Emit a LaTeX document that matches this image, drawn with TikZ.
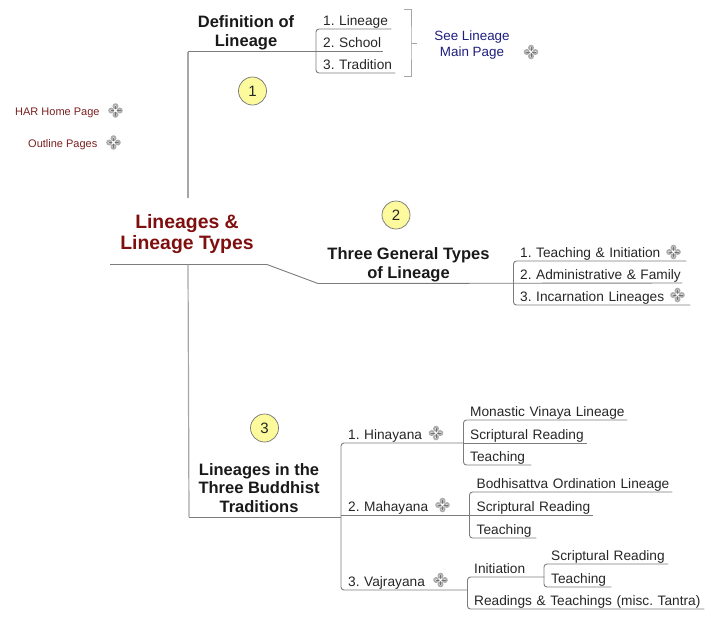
\documentclass[tikz,border=0pt]{standalone}
\usepackage{fontspec}
\setmainfont{Liberation Sans}
\frenchspacing
\definecolor{conn}{HTML}{7C7C7C}
\definecolor{trunk}{HTML}{A6A6A6}
\definecolor{maroon}{HTML}{7F0F0F}
\definecolor{linkred}{HTML}{7A2020}
\definecolor{linkblue}{HTML}{1E1E7E}
\definecolor{badge}{HTML}{FDFA9E}
\tikzset{
  x=1pt,y=-1pt,
  item/.style={anchor=south west,inner sep=0pt,text depth=3.6pt,align=left,font=\fontsize{13.7}{15}\selectfont,text=black!85},
  topic/.style={inner sep=0pt,align=center,font=\fontsize{16.5}{18.7}\selectfont\bfseries,text=black!90},
  roottitle/.style={inner sep=0pt,align=center,font=\fontsize{19.4}{21}\selectfont\bfseries,text=maroon},
  linkred/.style={inner sep=0pt,anchor=base west,font=\fontsize{11}{13}\selectfont,text=linkred},
  linkblue/.style={inner sep=0pt,align=center,font=\fontsize{13.4}{15.5}\selectfont,text=linkblue},
  connector/.style={draw=conn,line width=0.9pt,rounded corners=3pt},
  trunkline/.style={draw=trunk,line width=1.2pt},
  bracketline/.style={draw=black!35,line width=1pt},
  numbadge/.style={circle,draw=black!55,fill=badge,line width=0.7pt,minimum size=28pt,inner sep=0pt,font=\fontsize{15}{16}\selectfont,text=black!85},
  plusicon/.pic={
    \foreach \dx/\dy in {-4.3/0,4.3/0,0/-4.3,0/4.3}{
      \fill[black!32] (\dx,\dy) circle (3pt);
      \fill[black!10] (\dx,\dy) circle (1.2pt);
    }
    \draw[black!55,line width=0.6pt] (-5,0) -- (5,0) (0,-5) -- (0,5);
    \fill[white] (0,0) circle (1.3pt);
  }
}
\begin{document}
\begin{tikzpicture}
\useasboundingbox (0,0) rectangle (714,619);

% root
\node[roottitle] (root) at (187,234) {Lineages \&\\Lineage Types};
\coordinate (rootL) at (110,264.5);
\coordinate (rootR) at (267,264.5);
\coordinate (rootUp) at (188,198);
\coordinate (rootDown) at (188,264.5);
\coordinate (kneeTwo) at (318,283.5);

% links
\node[linkred] (har) at (15,115) {HAR Home Page};
\node[linkred] (outline) at (28,147) {Outline Pages};
\pic at (115.5,110.5) {plusicon};
\pic at (113.5,142.5) {plusicon};

% topic 1
\node[topic] (t1) at (246,32.5) {Definition of\\Lineage};
\coordinate (spA) at (316,51.5);
\node[item,text width=68] (a1) at (323,29) {1. Lineage};
\node[item,text width=60] (a2) at (323,51.5) {2. School};
\node[item,text width=72] (a3) at (323,73) {3. Tradition};
\draw[connector] (a1.south east) -| (spA) |- (a3.south east);
\draw[connector] (spA) -- (a2.south west) -- (a2.south east);
\draw[trunkline,rounded corners=0pt] (rootUp) -- (188,51.5);
\draw[connector,rounded corners=0pt] (188,51.5) -- (spA);

% bracket + see lineage
\coordinate (brT) at (404,9.5);
\coordinate (brB) at (404,76);
\coordinate (brM) at (411,43);
\coordinate (brE) at (417,43);
\draw[bracketline] (brT) -| (brM) |- (brB);
\draw[bracketline] (brM) -- (brE);
\node[linkblue] (see) at (472,45) {See Lineage\\Main Page};
\pic at (531,52) {plusicon};

% topic 2
\node[topic] (t2) at (408.5,265) {Three General Types\\of Lineage};
\coordinate (spB) at (513.5,283);
\node[item,text width=166] (b1) at (520,261) {1. Teaching \& Initiation};
\node[item,text width=162] (b2) at (520,283) {2. Administrative \& Family};
\node[item,text width=170] (b3) at (520,305) {3. Incarnation Lineages};
\draw[connector] (b1.south east) -| (spB) |- (b3.south east);
\draw[connector] (kneeTwo) -- (b2.south east);
\draw[conn,line width=0.9pt] (rootL) -- (rootR) -- (kneeTwo);
\pic at (673.5,252) {plusicon};
\pic at (677.5,295) {plusicon};

% topic 3
\node[topic] (t3) at (259,488) {Lineages in the\\Three Buddhist\\Traditions};
\coordinate (spC) at (341,517);
\draw[trunkline] (rootDown) -- (189,517);
\draw[connector,rounded corners=0pt] (189,517) -- (spC);
\node[item,text width=115] (h) at (348,443) {1. Hinayana};
\node[item,text width=121] (m) at (348,515) {2. Mahayana};
\node[item,text width=119] (v) at (348,590) {3. Vajrayana};
\draw[connector] (h.south east) -- (h.south west) -| (spC) |- (v.south east);
\draw[connector] (spC |- m.south west) -- (m.south east);
\pic at (436,433) {plusicon};
\pic at (442.5,505) {plusicon};
\pic at (440.5,580) {plusicon};

% Hinayana children
\coordinate (spH) at (463.5,443);
\node[item,text width=157] (h1) at (470,420) {Monastic Vinaya Lineage};
\node[item,text width=117] (h2) at (470,443) {Scriptural Reading};
\node[item,text width=61] (h3) at (470,465) {Teaching};
\draw[connector] (h1.south east) -| (spH) |- (h3.south east);
\draw[connector] (spH) -- (h2.south east);

% Mahayana children
\coordinate (spM) at (469.5,515);
\node[item,text width=195.5] (m1) at (476.5,492) {Bodhisattva Ordination Lineage};
\node[item,text width=116.5] (m2) at (476.5,515) {Scriptural Reading};
\node[item,text width=59.5] (m3) at (476.5,538) {Teaching};
\draw[connector] (m1.south east) -| (spM) |- (m3.south east);
\draw[connector] (spM) -- (m2.south east);

% Vajrayana children
\coordinate (spV) at (467.5,590);
\node[item,text width=70] (v1) at (474,577) {Initiation};
\node[item,text width=230] (v2) at (474,609) {Readings \& Teachings (misc. Tantra)};
\draw[connector] (v1.south east) -- (v1.south west) -| (spV) |- (v2.south east);
\coordinate (spI) at (544,577);
\node[item,text width=117] (i1) at (551,564) {Scriptural Reading};
\node[item,text width=60] (i2) at (551,587) {Teaching};
\draw[connector] (i1.south east) -| (spI) |- (i2.south east);

% numbered badges
\node[numbadge] (n1) at (252.5,91) {1};
\node[numbadge] (n2) at (396,215) {2};
\node[numbadge] (n3) at (264.5,428) {3};
\end{tikzpicture}
\end{document}
